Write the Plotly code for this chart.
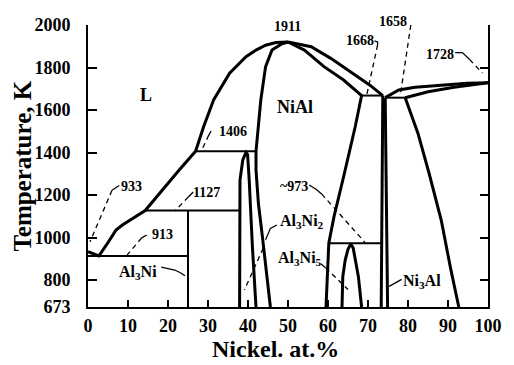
import plotly.graph_objects as go

# ---------------- data (Ni at.%, temperature K) ----------------
liquidus_al_x = [0, 2.7, 4.6, 7.0, 8.6, 11.0, 14.3, 22.8, 26.9, 28.9, 31.4, 35.4, 39.5, 42.0, 44.4, 47.0, 50.0]
liquidus_al_t = [933, 913, 965, 1035, 1059, 1086, 1127, 1318, 1406, 1521, 1647, 1773, 1851, 1882, 1905, 1918, 1920]

liquidus_nial_x = [50.0, 55.8, 60.7, 65.5, 70.4, 73.7]
liquidus_nial_t = [1920, 1898, 1843, 1780, 1718, 1668]

nial_left_x = [50.0, 48.5, 46.0, 44.4, 43.2, 42.4, 42.0, 42.0, 42.6, 43.6, 45.6]
nial_left_t = [1920, 1912, 1882, 1804, 1647, 1490, 1406, 1318, 1160, 1004, 673]

nial_right_x = [50.0, 54.1, 59.0, 63.9, 68.4, 66.8, 63.9, 61.5, 60.2, 59.5]
nial_right_t = [1920, 1882, 1804, 1741, 1668, 1521, 1286, 1098, 973, 673]

al3ni2_x = [37.9, 37.9, 38.0, 38.7, 39.5, 39.9, 40.3, 41.1, 42.0]
al3ni2_t = [673, 1035, 1271, 1365, 1400, 1390, 1271, 957, 673]

al3ni5_x = [63.5, 63.7, 64.3, 65.0, 65.7, 66.3, 67.6, 68.4]
al3ni5_t = [673, 816, 894, 945, 970, 950, 816, 673]

ni3al_left_x = [73.7, 73.5, 73.3]
ni3al_left_t = [1668, 1300, 673]
ni3al_right_x = [74.3, 74.5, 74.9]
ni3al_right_t = [1658, 1380, 673]

liquidus_ni_x = [74.3, 77.7, 81.8, 88.3, 94.8, 100]
liquidus_ni_t = [1658, 1694, 1707, 1718, 1726, 1728]
solidus_ni_x = [79.3, 85.0, 91.5, 100]
solidus_ni_t = [1658, 1686, 1707, 1728]

gamma_solvus_x = [79.3, 82.5, 85.3, 88.3, 90.7, 92.7]
gamma_solvus_t = [1658, 1490, 1300, 1082, 850, 673]

# invariant lines and Al3Ni line compound: (x0, x1, t0, t1)
invariants = [
    (0, 25, 913, 913),
    (14.3, 37.9, 1127, 1127),
    (26.9, 42.0, 1406, 1406),
    (68.4, 73.7, 1668, 1668),
    (74.3, 79.3, 1658, 1658),
    (60.2, 73.5, 973, 973),
    (25, 25, 673, 1127),
]

# temperature labels: text, (x, T) of text, solid hook points, dashed leader points
temp_labels = ["933", "913", "1127", "1406", "1911", "1668", "1658", "1728", "~973"]
temp_label_pos = [(10.9, 1238), (18.6, 1012), (29.6, 1214), (36.2, 1501), (49.8, 1992),
                  (67.9, 1925), (76.3, 1999), (87.9, 1859), (51.4, 1240)]
temp_label_shift = [0, 0, 0, 0, 0, 0, 4, 0, 0]
hooks = [
    [(7.8, 1245), (6.0, 1222)],
    [(14.7, 1012), (13.4, 998)],
    [(26.3, 1214), (25.1, 1191)],
    [(30.8, 1501), (30.2, 1482)],
    None,
    [(71.6, 1925), (72.4, 1920), (72.4, 1906)],
    [(79.8, 2017), (81.0, 2013), (80.7, 2000)],
    [(91.8, 1870), (93.6, 1870), (95.4, 1838)],
    [(55.3, 1247), (57.1, 1226), (58.4, 1205)],
]
dashes = [
    [(6.0, 1222), (0.5, 980)],
    [(13.4, 998), (9.8, 918)],
    [(25.1, 1191), (21.7, 1125)],
    [(30.2, 1482), (28.3, 1406)],
    None,
    [(72.4, 1906), (69.6, 1663)],
    [(80.7, 2000), (78.1, 1672)],
    [(95.4, 1838), (98.6, 1774)],
    [(58.4, 1205), (69.3, 976)],
]

# phase labels
phase_labels = ["L", "NiAl", "Al<sub>3</sub>Ni", "Al<sub>3</sub>Ni<sub>2</sub>",
                "Al<sub>3</sub>Ni<sub>5</sub>", "Ni<sub>3</sub>Al"]
phase_label_pos = [(14.4, 1671), (51.7, 1614), (12.6, 835), (53.5, 1075), (53.0, 900), (83.5, 795)]
phase_label_size = [18, 18, 16, 16, 16, 16]
phase_hooks = [None, None,
               [(18.3, 861), (21.7, 847), (23.2, 833)],
               [(47.2, 1059), (45.6, 1043), (44.4, 990)],
               [(58.2, 877), (59.4, 858)],
               [(78.4, 803), (75.3, 770)]]
phase_dashes = [None, None,
                [(23.2, 833), (25.0, 810)],
                [(43.8, 950), (39.1, 753)],
                [(59.4, 858), (65.0, 755)],
                None]

x_ticks = [0, 10, 20, 30, 40, 50, 60, 70, 80, 90, 100]
y_ticks = [673, 800, 1000, 1200, 1400, 1600, 1800, 2000]
x_title = "Nickel. at.%"
y_title = "Temperature, K"

# ---------------- figure ----------------
fig = go.Figure()
BLACK = "black"
FAM = "Liberation Serif"


def add_line(xs, ts, width=3, dash="solid"):
    fig.add_trace(go.Scatter(x=xs, y=ts, mode="lines",
                             line=dict(color=BLACK, width=width, dash=dash),
                             hoverinfo="skip", showlegend=False, cliponaxis=False))


for xs, ts in [(liquidus_al_x, liquidus_al_t), (liquidus_nial_x, liquidus_nial_t),
               (nial_left_x, nial_left_t), (nial_right_x, nial_right_t),
               (al3ni2_x, al3ni2_t), (al3ni5_x, al3ni5_t),
               (ni3al_left_x, ni3al_left_t), (ni3al_right_x, ni3al_right_t),
               (liquidus_ni_x, liquidus_ni_t), (solidus_ni_x, solidus_ni_t),
               (gamma_solvus_x, gamma_solvus_t)]:
    add_line(xs, ts, width=3)

for x0, x1, t0, t1 in invariants:
    add_line([x0, x1], [t0, t1], width=2)

for pts in hooks + phase_hooks:
    if pts:
        add_line([p[0] for p in pts], [p[1] for p in pts], width=1.3)
for pts in dashes + phase_dashes:
    if pts:
        add_line([p[0] for p in pts], [p[1] for p in pts], width=1.3, dash="5px,4px")

# invisible trace for the right-hand axis
fig.add_trace(go.Scatter(x=[0], y=[673], yaxis="y2", mode="markers",
                         marker=dict(opacity=0), hoverinfo="skip", showlegend=False))

annotations = []
for txt, (x, t), sh in zip(temp_labels, temp_label_pos, temp_label_shift):
    annotations.append(dict(x=x, y=t, xref="x", yref="y", text=txt, showarrow=False, yshift=sh,
                            font=dict(size=14, family=FAM, color=BLACK, weight="bold")))
for txt, (x, t), s in zip(phase_labels, phase_label_pos, phase_label_size):
    annotations.append(dict(x=x, y=t, xref="x", yref="y", text=txt, showarrow=False,
                            font=dict(size=s, family=FAM, color=BLACK, weight="bold")))
# axis titles
annotations.append(dict(x=0.468, y=-0.148, xref="paper", yref="paper", text=x_title,
                        showarrow=False, xanchor="center", yanchor="middle", borderpad=0,
                        font=dict(size=24, family=FAM, color=BLACK, weight="bold")))
annotations.append(dict(x=-0.166, y=0.5, xref="paper", yref="paper", text=y_title,
                        showarrow=False, textangle=-90, xanchor="center", yanchor="middle",
                        font=dict(size=25, family=FAM, color=BLACK, weight="bold")))

fig.update_layout(
    width=514, height=365,
    margin=dict(l=88, r=16, t=25, b=58),
    paper_bgcolor="white", plot_bgcolor="white",
    font=dict(family=FAM, color=BLACK, weight="bold"),
    annotations=annotations,
    xaxis=dict(range=[0, 100], tickvals=x_ticks, ticktext=[str(v) for v in x_ticks],
               ticks="inside", ticklen=7, tickwidth=2, tickcolor=BLACK,
               showline=True, linewidth=2, linecolor=BLACK, showgrid=False, zeroline=False,
               tickfont=dict(size=18, family=FAM, color=BLACK, weight="bold"),
               ticklabelstandoff=1),
    yaxis=dict(range=[673, 2000], tickvals=y_ticks, ticktext=[str(v) for v in y_ticks],
               ticks="inside", ticklen=9, tickwidth=2, tickcolor=BLACK,
               showline=True, linewidth=2, linecolor=BLACK, showgrid=False, zeroline=False,
               tickfont=dict(size=18, family=FAM, color=BLACK, weight="bold"),
               ticklabelstandoff=12),
    yaxis2=dict(range=[673, 2000], overlaying="y", side="right", tickvals=y_ticks,
                showticklabels=False, ticks="inside", ticklen=8, tickwidth=2, tickcolor=BLACK,
                showline=True, linewidth=2, linecolor=BLACK, showgrid=False, zeroline=False),
)

fig.write_html("out.html", config={"displayModeBar": False},
               post_script="document.body.style.margin='0';")
